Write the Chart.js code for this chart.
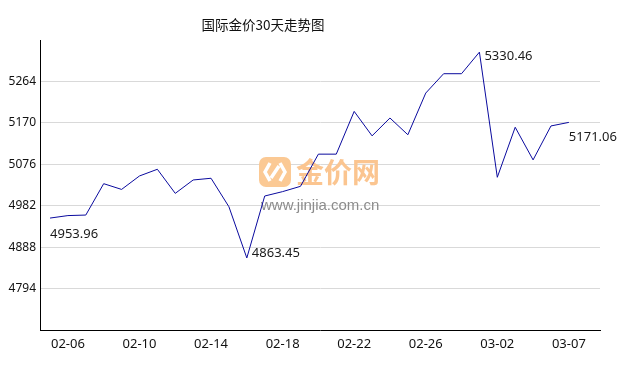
<!DOCTYPE html>
<html>
<head>
<meta charset="utf-8">
<script src="https://cdn.jsdelivr.net/npm/chart.js@4"></script>
<style>
  html, body { margin: 0; padding: 0; background: #fff; }
  #wrap { width: 638px; height: 370px; }
</style>
</head>
<body>
<div id="wrap"><canvas id="chartJinjia" width="638" height="370"></canvas></div>
<script>
const dates = ['02-05', '02-06', '02-07', '02-08', '02-09', '02-10', '02-11', '02-12', '02-13', '02-14',
    '02-15', '02-16', '02-17', '02-18', '02-19', '02-20', '02-21', '02-22', '02-23', '02-24',
    '02-25', '02-26', '02-27', '02-28', '03-01', '03-02', '03-03', '03-04', '03-05', '03-07'];
const prices = [4953.96, 4959.6, 4960.8, 5032, 5019, 5049.5, 5064.7, 5010, 5040.4, 5044.3,
    4979.6, 4863.45, 5004, 5014, 5026, 5099, 5099, 5196, 5140.5, 5181,
    5143, 5237.6, 5281.5, 5281.5, 5330.46, 5046.5, 5160, 5086, 5163, 5171.06];
const yTicks = [4794, 4888, 4982, 5076, 5170, 5264];
const xTickIdx = [1, 5, 9, 13, 17, 21, 25, 29];
const titulo = '国际金价30天走势图';

const fonte = '"Noto Sans", "Noto Sans CJK SC", sans-serif';

// marca d'agua + titulo + rotulos de max/min/inicio/fim
const extras = {
    id: 'extras',
    beforeDatasetsDraw(chart) {
        const c = chart.ctx;
        c.save();
        // icone
        c.fillStyle = '#fbc994';
        c.beginPath();
        c.roundRect(259, 157, 32, 30, 7);
        c.fill();
        c.strokeStyle = '#fff';
        c.lineWidth = 3.5;
        c.beginPath();
        c.moveTo(270, 163); c.lineTo(265, 172); c.lineTo(270, 181);
        c.moveTo(280, 163); c.lineTo(285, 172); c.lineTo(280, 181);
        c.moveTo(279, 166); c.lineTo(271, 178);
        c.stroke();
        c.fillStyle = '#fbc590';
        c.font = 'bold 28px "Noto Sans CJK SC"';
        c.textBaseline = 'middle';
        c.fillText('金价网', 296, 172);
        c.fillStyle = '#8c8c8c';
        c.font = '15px "Liberation Sans", Arial';
        c.fillText('www.jinjia.com.cn', 261, 206);
        c.restore();
    },
    afterDraw(chart) {
        const c = chart.ctx;
        const xs = chart.scales.x, ys = chart.scales.y;
        c.save();
        c.fillStyle = '#111';
        c.font = '13.5px "Noto Sans CJK SC"';
        c.textAlign = 'center';
        c.textBaseline = 'middle';
        c.fillText(titulo, 263, 25);

        let iMax = 0, iMin = 0;
        prices.forEach((p, i) => {
            if (p > prices[iMax]) iMax = i;
            if (p < prices[iMin]) iMin = i;
        });
        const last = prices.length - 1;
        const rot = [
            [0, 0, 16],
            [iMin, 5, -5],
            [iMax, 5, 4],
            [last, 0, 15]
        ];
        c.font = '13px ' + fonte;
        c.textAlign = 'left';
        c.fillStyle = '#1a1a1a';
        rot.forEach(([i, dx, dy]) => {
            const px = xs.getPixelForValue(i);
            const py = ys.getPixelForValue(prices[i]);
            c.fillText(prices[i].toFixed(2), px + dx, py + dy);
        });
        c.restore();
    }
};

new Chart(document.getElementById('chartJinjia'), {
    type: 'line',
    data: {
        datasets: [{
            data: prices.map((p, i) => ({ x: i, y: p })),
            borderColor: '#0a0a9e',
            borderWidth: 1,
            pointRadius: 0,
            tension: 0,
            fill: false
        }]
    },
    options: {
        responsive: false,
        animation: false,
        layout: { padding: { top: 40, right: 38, left: 0, bottom: 0 } },
        plugins: {
            legend: { display: false },
            tooltip: { enabled: false },
            title: { display: false }
        },
        scales: {
            x: {
                type: 'linear',
                min: -0.56,
                max: 30.74,
                afterBuildTicks: s => { s.ticks = xTickIdx.map(v => ({ value: v })); },
                afterFit: s => { s.height = 40; },
                ticks: {
                    callback: v => dates[v],
                    color: '#111',
                    font: { family: fonte, size: 13 },
                    padding: 6,
                    maxRotation: 0,
                    autoSkip: false
                },
                grid: { display: false, drawTicks: false },
                border: { display: true, color: '#000', width: 1 }
            },
            y: {
                min: 4700,
                max: 5358,
                afterBuildTicks: s => { s.ticks = yTicks.map(v => ({ value: v })); },
                afterFit: s => { s.width = 40; },
                ticks: {
                    callback: v => String(v),
                    color: '#111',
                    font: { family: fonte, size: 12 },
                    padding: 4
                },
                grid: { color: '#d9d9d9', drawTicks: false },
                border: { display: true, color: '#000', width: 1 }
            }
        }
    },
    plugins: [extras]
});
</script>
</body>
</html>
